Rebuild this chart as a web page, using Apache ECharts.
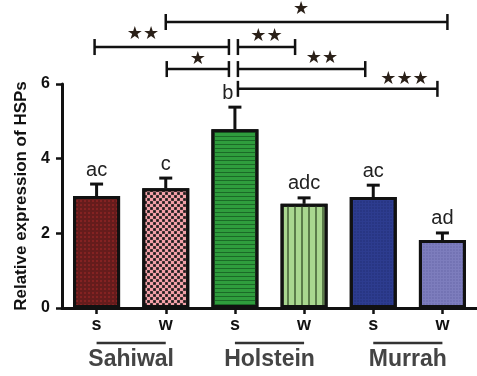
<!DOCTYPE html>
<html><head><meta charset="utf-8">
<script src="https://cdn.jsdelivr.net/npm/echarts@6/dist/echarts.min.js"></script>
<style>html,body{margin:0;padding:0;background:#fff}#c{width:477px;height:376px}</style>
</head><body><div id="c"></div>
<script>
// ---- data ----
const categories = ['s', 'w', 's', 'w', 's', 'w'];
const groups = ['Sahiwal', 'Holstein', 'Murrah'];
const values = [3.00, 3.21, 4.79, 2.79, 2.97, 1.82];
const errors = [0.32, 0.27, 0.59, 0.16, 0.32, 0.19];
const letters = ['ac', 'c', 'b', 'adc', 'ac', 'ad'];
const yTicks = [0, 2, 4, 6];
// significance brackets: from category, to category, level (axis units), stars
const bracketFrom = [1, 0, 2, 1, 2, 2];
const bracketTo = [5, 2, 3, 2, 4, 5];
const bracketLevel = [7.66, 6.99, 6.99, 6.40, 6.40, 5.87];
const bracketStars = ['★', '★★', '★★', '★', '★★', '★★★'];

// ---- styles ----
const barStyles = [
  { color: '#651c1c', decal: { symbol: 'rect', symbolSize: 0.6, color: 'rgba(225,55,55,0.85)', dashArrayX: [2, 1.5], dashArrayY: [2, 1.5] } },
  { color: '#f3a0a8', decal: { symbol: 'rect', symbolSize: 0.9, color: '#1a1a1a', dashArrayX: [[3, 3], [0, 3, 3, 0]], dashArrayY: [3, 0] } },
  { color: '#2f9d3d', decal: { symbol: 'rect', symbolSize: 1, color: '#1b6a27', dashArrayX: [1, 0], dashArrayY: [1, 3] } },
  { color: '#a9d78f', decal: { symbol: 'rect', symbolSize: 1, color: '#5b7c4a', dashArrayX: [1.5, 4.5], dashArrayY: [1, 0] } },
  { color: '#2d3c8f', decal: { symbol: 'rect', symbolSize: 0.6, color: 'rgba(20,25,80,0.55)', dashArrayX: [2, 1], dashArrayY: [2, 1] } },
  { color: '#7d7dbd', decal: { symbol: 'rect', symbolSize: 0.6, color: 'rgba(60,60,130,0.45)', dashArrayX: [2, 1], dashArrayY: [2, 1] } }
];
const letterNudge = [0, 0, -7, 0, 0, 0];
const bracketEndNudge = [[0, 5], [-2, -6], [3, -9], [1, -6], [3, -8], [3, -5]];
const starFrac = [0.48, 0.36, 0.5, 0.5, 0.66, 0.835];
const starLift = [13, 13, 11, 10, 11, 10];

const chart = echarts.init(document.getElementById('c'), null, { renderer: 'canvas' });

const barData = values.map((v, i) => ({
  value: v,
  itemStyle: { color: barStyles[i].color, decal: barStyles[i].decal, borderColor: '#111', borderWidth: 3 }
}));

chart.setOption({
  animation: false,
  backgroundColor: '#fff',
  grid: { left: 62, right: -1, top: 84, bottom: 68, containLabel: false },
  xAxis: {
    type: 'category',
    data: categories,
    axisLine: { show: true, lineStyle: { color: '#111', width: 3 } },
    axisTick: { show: true, alignWithLabel: true, length: 6, lineStyle: { color: '#111', width: 2.5 } },
    axisLabel: { show: true, interval: 0, margin: 8, color: '#111', fontFamily: 'Liberation Sans', fontWeight: 'bold', fontSize: 18 },
    splitLine: { show: false }
  },
  yAxis: {
    type: 'value',
    min: yTicks[0], max: yTicks[yTicks.length - 1], interval: 2,
    name: 'Relative expression of HSPs',
    nameLocation: 'middle', nameRotate: 90, nameGap: 31,
    nameTextStyle: { fontFamily: 'Liberation Sans', fontWeight: 'bold', fontSize: 17, color: '#111' },
    axisLine: { show: true, lineStyle: { color: '#111', width: 3 } },
    axisTick: { show: true, length: 6, lineStyle: { color: '#111', width: 2.5 } },
    axisLabel: { show: true, margin: 12, color: '#111', fontFamily: 'Liberation Sans', fontWeight: 'bold', fontSize: 16 },
    splitLine: { show: false }
  },
  series: [
    {
      type: 'bar', data: barData, barWidth: 47, z: 2
    },
    {
      type: 'custom', z: 5, clip: false,
      data: values.map((v, i) => [i, v, errors[i]]),
      encode: { x: 0, y: 1 },
      renderItem: function (params, api) {
        const i = api.value(0), v = api.value(1), e = api.value(2);
        const p0 = api.coord([i, v]);
        const p1 = api.coord([i, v + e]);
        const cap = 6.5;
        return {
          type: 'group', children: [
            { type: 'line', shape: { x1: p0[0], y1: p0[1], x2: p1[0], y2: p1[1] }, style: { stroke: '#111', lineWidth: 3 } },
            { type: 'line', shape: { x1: p1[0] - cap, y1: p1[1], x2: p1[0] + cap, y2: p1[1] }, style: { stroke: '#111', lineWidth: 3 } },
            { type: 'text', x: p1[0] + letterNudge[params.dataIndex], y: p1[1] - 14,
              style: { text: letters[params.dataIndex], fontFamily: 'Liberation Sans', fontSize: 20, fill: '#222', align: 'center', verticalAlign: 'middle' } }
          ]
        };
      }
    },
    {
      type: 'custom', z: 6, clip: false,
      data: bracketFrom.map((f, i) => [f, bracketLevel[i], bracketTo[i]]),
      encode: { x: 0, y: 1 },
      renderItem: function (params, api) {
        const k = params.dataIndex;
        const a = api.coord([api.value(0), api.value(1)]);
        const b = api.coord([api.value(2), api.value(1)]);
        const y = a[1];
        const x1 = a[0] + bracketEndNudge[k][0];
        const x2 = b[0] + bracketEndNudge[k][1];
        const t = 8;
        const st = { stroke: '#111', lineWidth: 2.5 };
        return {
          type: 'group', children: [
            { type: 'line', shape: { x1: x1, y1: y, x2: x2, y2: y }, style: st },
            { type: 'line', shape: { x1: x1, y1: y - t, x2: x1, y2: y + t }, style: st },
            { type: 'line', shape: { x1: x2, y1: y - t, x2: x2, y2: y + t }, style: st },
            { type: 'text', x: x1 + (x2 - x1) * starFrac[k], y: y - starLift[k],
              style: { text: bracketStars[k], fontFamily: 'DejaVu Sans', fontSize: 18, fill: '#2a2018', align: 'center', verticalAlign: 'middle' } }
          ]
        };
      }
    },
    {
      type: 'custom', z: 6, clip: false,
      data: groups.map((g, i) => [i * 2, 0, i * 2 + 1]),
      encode: { x: 0, y: 1 },
      renderItem: function (params, api) {
        const a = api.coord([api.value(0), 0]);
        const b = api.coord([api.value(2), 0]);
        const y = a[1];
        return {
          type: 'group', children: [
            { type: 'line', shape: { x1: a[0], y1: y + 35, x2: b[0], y2: y + 35 }, style: { stroke: '#333', lineWidth: 2.5 } },
            { type: 'text', x: (a[0] + b[0]) / 2, y: y + 52,
              style: { text: groups[params.dataIndex], fontFamily: 'Liberation Sans', fontWeight: 'bold', fontSize: 23, fill: '#444', align: 'center', verticalAlign: 'middle' } }
          ]
        };
      }
    }
  ]
});
</script>
</body></html>
